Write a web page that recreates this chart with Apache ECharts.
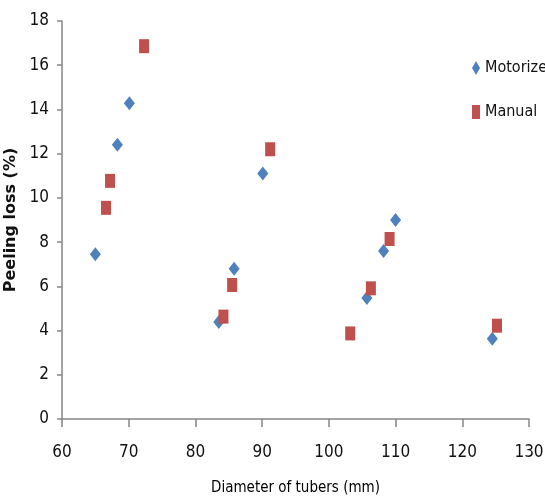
<!DOCTYPE html>
<html>
<head>
<meta charset="utf-8">
<title>Peeling loss</title>
<script src="https://cdn.jsdelivr.net/npm/echarts@6/dist/echarts.min.js"></script>
<style>
  html, body { margin: 0; padding: 0; background: #fff; }
  #container { width: 545px; height: 500px; }
</style>
</head>
<body>
<div id="container"></div>
<script>
    // data: [diameter (mm), peeling loss (%)]
    var motorizeX = [65.0, 68.3, 70.1, 83.5, 85.8, 90.1, 105.7, 108.2, 110.0, 124.5];
    var motorizeY = [7.45, 12.4, 14.28, 4.39, 6.8, 11.1, 5.47, 7.6, 9.0, 3.63];
    var manualX = [66.6, 67.2, 72.3, 84.2, 85.5, 91.2, 103.2, 106.3, 109.1, 125.2];
    var manualY = [9.55, 10.77, 16.86, 4.63, 6.06, 12.2, 3.87, 5.91, 8.14, 4.22];

    var fontName = '"DejaVu Sans Condensed", "Liberation Sans Narrow", sans-serif';

    function pairs(xs, ys) {
        var out = [];
        for (var i = 0; i < xs.length; i++) {
            out.push([xs[i], ys[i]]);
        }
        return out;
    }

    var myChart = echarts.init(document.getElementById('container'), null, {renderer: 'canvas'});

    var option = {
        animation: false,
        grid: {
            left: 62,
            right: 16,
            top: 21,
            bottom: 81,
            outerBoundsMode: 'none'
        },
        legend: {
            orient: 'vertical',
            left: 472,
            top: 60,
            padding: 0,
            itemGap: 28,
            itemWidth: 8,
            itemHeight: 14,
            textStyle: {
                fontFamily: fontName,
                fontSize: 16,
                color: '#111'
            },
            data: [
                {name: 'Motorize', icon: 'diamond'},
                {name: 'Manual', icon: 'rect'}
            ]
        },
        xAxis: {
            type: 'value',
            min: 60,
            max: 130,
            interval: 10,
            name: 'Diameter of tubers (mm)',
            nameLocation: 'middle',
            nameGap: 62,
            nameTextStyle: {
                fontFamily: fontName,
                fontSize: 15,
                fontWeight: 'normal',
                color: '#000'
            },
            splitLine: {show: false},
            axisLine: {lineStyle: {color: '#868686', width: 1.5}},
            axisTick: {show: true, length: 8, lineStyle: {color: '#868686', width: 1.5}},
            axisLabel: {
                margin: 25,
                fontFamily: fontName,
                fontSize: 17,
                color: '#111'
            }
        },
        yAxis: {
            type: 'value',
            min: 0,
            max: 18,
            interval: 2,
            name: 'Peeling loss (%)',
            nameLocation: 'middle',
            nameRotate: 90,
            nameGap: 33,
            nameTextStyle: {
                fontFamily: '"DejaVu Sans", sans-serif',
                fontSize: 16,
                fontWeight: 'bold',
                color: '#111'
            },
            splitLine: {show: false},
            axisLine: {show: true, lineStyle: {color: '#868686', width: 1.5}},
            axisTick: {show: true, length: 5, lineStyle: {color: '#868686', width: 1.5}},
            axisLabel: {
                margin: 13,
                fontFamily: fontName,
                fontSize: 17,
                color: '#111'
            }
        },
        series: [
            {
                name: 'Motorize',
                type: 'scatter',
                symbol: 'diamond',
                symbolSize: [11, 14],
                itemStyle: {color: '#4F81BD', opacity: 1},
                data: pairs(motorizeX, motorizeY)
            },
            {
                name: 'Manual',
                type: 'scatter',
                symbol: 'rect',
                symbolSize: [10, 14],
                itemStyle: {color: '#C0504D', opacity: 1},
                data: pairs(manualX, manualY)
            }
        ]
    };

    myChart.setOption(option, true);
</script>
</body>
</html>
